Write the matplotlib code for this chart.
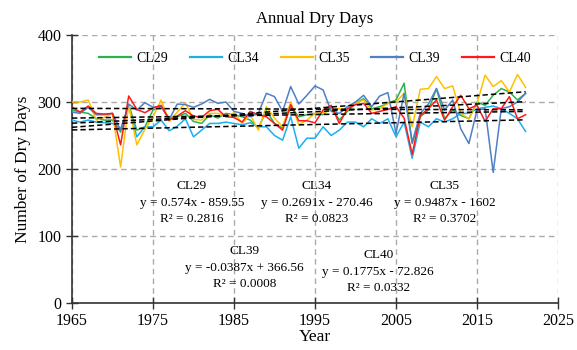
import matplotlib
matplotlib.use("Agg")
import matplotlib.pyplot as plt
import numpy as np

plt.rcParams['font.family'] = ['Liberation Serif', 'DejaVu Serif']

years = list(range(1965, 2022))

cl29 = [288, 285, 283, 275, 273, 273, 255, 296, 258, 263, 288, 293, 276, 278, 283, 271, 268, 281,
        276, 283, 281, 278, 273, 261, 287, 268, 261, 293, 278, 281, 283, 281, 293, 273, 286,
        298, 305, 290, 293, 298, 303, 328, 238, 278, 288, 320, 275, 288, 280, 275, 300, 295,
        310, 320, 315, 303, 313]
cl34 = [273, 270, 273, 270, 269, 268, 260, 293, 248, 263, 263, 273, 257, 264, 275, 248, 258, 268,
        268, 270, 268, 266, 269, 263, 263, 250, 243, 278, 231, 246, 246, 263, 250, 258, 270,
        270, 263, 275, 268, 275, 248, 270, 216, 270, 263, 275, 270, 275, 283, 283, 290, 292,
        294, 290, 283, 275, 256]
cl35 = [300, 300, 303, 273, 277, 283, 203, 296, 236, 259, 278, 303, 271, 285, 299, 274, 273, 283,
        283, 278, 284, 268, 281, 258, 293, 276, 263, 300, 266, 273, 283, 284, 288, 290, 288,
        298, 303, 288, 290, 298, 300, 313, 263, 319, 320, 338, 320, 324, 283, 275, 298, 340,
        323, 332, 315, 341, 322]
cl39 = [285, 283, 292, 281, 281, 283, 258, 297, 288, 299, 292, 294, 274, 297, 296, 292, 297, 304,
        298, 300, 286, 283, 278, 283, 313, 308, 286, 323, 297, 310, 324, 318, 286, 283, 293,
        300, 310, 293, 309, 314, 253, 313, 240, 283, 297, 320, 288, 303, 260, 238, 288, 290,
        195, 290, 293, 300, 313]
cl40 = [292, 285, 294, 283, 282, 283, 236, 309, 289, 284, 291, 295, 273, 279, 287, 279, 277, 287,
        289, 278, 277, 270, 286, 281, 278, 268, 258, 296, 272, 272, 269, 288, 295, 268, 290,
        296, 298, 283, 286, 289, 293, 276, 222, 280, 290, 303, 273, 293, 310, 290, 295, 271,
        290, 290, 308, 275, 281]

names = ["CL29", "CL34", "CL35", "CL39", "CL40"]
colors = ["#2BB24C", "#1CAFEF", "#FFC000", "#4F7FC4", "#FF1A1A"]
slopes = [0.574, 0.2691, 0.9487, -0.0387, 0.1775]
intercepts = [-859.55, -270.46, -1602, 366.56, -72.826]
eq_texts = ["y = 0.574x - 859.55", "y = 0.2691x - 270.46", "y = 0.9487x - 1602",
            "y = -0.0387x + 366.56", "y = 0.1775x - 72.826"]
r2_texts = ["R² = 0.2816", "R² = 0.0823", "R² = 0.3702", "R² = 0.0008", "R² = 0.0332"]
label_pos = [(1979.8, 183), (1995.2, 183), (2011.0, 183), (1986.3, 86), (2002.8, 80)]

series = [cl29, cl34, cl35, cl39, cl40]

fig = plt.figure(figsize=(5.77, 3.5), dpi=100)
ax = fig.add_axes([72/577, 1-303/350, (558-72)/577, (303-35)/350])

x = np.array(years)
for s, c, n in zip(series, colors, names):
    ax.plot(x, s, color=c, lw=1.1, label=n, zorder=3)

xt = np.array([years[0], years[-1]])
for m, b in zip(slopes, intercepts):
    ax.plot(xt, m*xt + b, color="black", lw=1.1, ls=(0, (3.5, 2)), zorder=4)

for (px, py), n, e, r in zip(label_pos, names, eq_texts, r2_texts):
    ax.text(px, py, f"{n}\n{e}\n{r}", ha="center", va="top", fontsize=9.5,
            linespacing=1.5, zorder=5)

ax.set_xlim(1965, 2025)
ax.set_ylim(0, 400)
ax.set_xticks(range(1965, 2026, 10))
ax.set_yticks(range(0, 401, 100))
ax.grid(True, color="#AAAAAA", ls=(0, (4, 3)), lw=1.0)
ax.set_axisbelow(True)
for sp in ["top", "right"]:
    ax.spines[sp].set_visible(False)
for sp in ["left", "bottom"]:
    ax.spines[sp].set_color("#333333")
    ax.spines[sp].set_linewidth(1.2)
ax.tick_params(direction="inout", length=8, width=1.0, labelsize=11.5, colors="#333333",
               labelcolor="black")
ax.set_xlabel("Year", fontsize=12.5, labelpad=0)
ax.set_ylabel("Number of Dry Days", fontsize=12.5, labelpad=5)
ax.set_title("Annual Dry Days", fontsize=12, pad=9)

leg = ax.legend(loc="upper center", bbox_to_anchor=(0.5, 0.985), ncol=5, frameon=False,
                fontsize=10, handlelength=2.3, columnspacing=1.55, handletextpad=0.4)
for line in leg.get_lines():
    line.set_linewidth(1.6)

fig.savefig("out.png", dpi=100)
